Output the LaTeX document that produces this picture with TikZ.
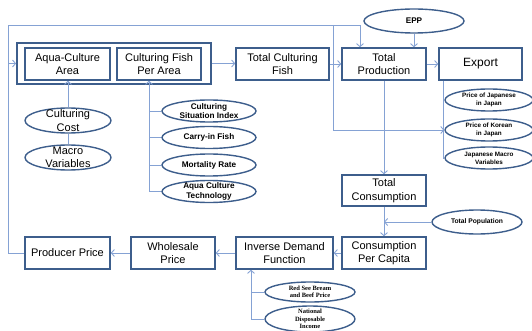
\documentclass[tikz,border=0pt]{standalone}
\usepackage{fontspec}
\setmainfont{Liberation Sans}
\newfontfamily\serifb{Liberation Serif}
\usetikzlibrary{shapes.geometric,arrows.meta,calc}
\definecolor{boxc}{HTML}{3D5E8C}
\definecolor{linec}{HTML}{85A2D4}
\begin{document}
\begin{tikzpicture}[x=1pt,y=-1pt,
  bx/.style={draw=boxc,line width=1.6pt,minimum width=#1,minimum height=32pt,inner sep=0pt,align=center,font=\fontsize{11}{13.5}\selectfont},
  ov/.style 2 args={ellipse,draw=boxc,line width=1.4pt,minimum width=#1,minimum height=#2,inner sep=0pt},
  big/.style={align=center,font=\fontsize{11}{13.5}\selectfont,inner sep=0pt},
  sm/.style={align=center,font=\bfseries\fontsize{8.2}{9.5}\selectfont,inner sep=0pt},
  tiny/.style={align=center,font=\bfseries\fontsize{6.3}{7.8}\selectfont,inner sep=0pt},
  tinys/.style={align=center,font=\serifb\bfseries\fontsize{6.5}{7.4}\selectfont,inner sep=0pt},
  ln/.style={draw=linec,line width=0.9pt},
  arr/.style={ln,-{Straight Barb[length=3pt,width=7pt]}}]
\useasboundingbox (0,0) rectangle (532,331);
% group box
\node[draw=boxc,line width=1.8pt,minimum width=194pt,minimum height=41pt,inner sep=0pt] (grp) at (114,63.5) {};
\node[bx=85pt] (aqua) at (67.5,64) {Aqua-Culture\\Area};
\node[bx=84pt] (cfpa) at (159,64) {Culturing Fish\\Per Area};
\node[bx=93pt] (tcf) at (282.5,64) {Total Culturing\\Fish};
\node[bx=84pt] (tp) at (384,64) {Total\\Production};
\node[bx=83pt,font=\fontsize{12}{14}\selectfont] (exp) at (480.5,64) {Export};
\node[bx=84pt,minimum height=31pt] (tc) at (384,190.5) {Total\\Consumption};
\node[bx=84pt] (cpc) at (384,253) {Consumption\\Per Capita};
\node[bx=97pt] (idf) at (284.5,253) {Inverse Demand\\Function};
\node[bx=84pt] (wp) at (173,253) {Wholesale\\Price};
\node[bx=85pt] (pp) at (67.5,253) {Producer Price};
% ellipses
\node[ov={100pt}{24pt},label={[sm]center:EPP}] (epp) at (414,21) {};
\node[ov={86pt}{25pt},label={[big]center:Culturing\\Cost}] (cc) at (68,120.5) {};
\node[ov={86pt}{25pt},label={[big]center:Macro\\Variables}] (mv) at (68,157.5) {};
\node[ov={94pt}{22pt},label={[sm]center:Culturing\\Situation Index}] (csi) at (209,111) {};
\node[ov={94pt}{22pt},label={[sm]center:Carry-in Fish}] (cif) at (209,137.5) {};
\node[ov={94pt}{22pt},label={[sm]center:Mortality Rate}] (mr) at (209,165) {};
\node[ov={94pt}{22pt},label={[sm]center:Aqua Culture\\Technology}] (act) at (209,191.5) {};
\node[ov={88pt}{22pt},label={[tiny]center:Price of Japanese\\in Japan}] (pjj) at (489,100) {};
\node[ov={88pt}{22pt},label={[tiny]center:Price of Korean\\in Japan}] (pkj) at (489,130) {};
\node[ov={88pt}{22pt},label={[tiny]center:Japanese Macro\\Variables}] (jmv) at (489,158) {};
\node[ov={90pt}{24pt},label={[tiny,font=\bfseries\fontsize{6.7}{8}\selectfont]center:Total Population}] (tpop) at (477,222) {};
\node[ov={90pt}{20pt},label={[tinys]center:Red See Bream\\and Beef Price}] (rsb) at (310,292) {};
\node[ov={90pt}{26pt},label={[tinys]center:National\\Disposable\\Income}] (ndi) at (310,319) {};
% coordinates
\coordinate (ctl) at (8,25);
\coordinate (lj) at (8,63.5);
\coordinate (kj) at (333,25);
\coordinate (fb) at ([xshift=-10pt]cfpa.south);
\coordinate (ib) at ([xshift=-33.5pt]idf.south);
% connectors
\draw[arr] (pp.west) -| (ctl) -| ([xshift=-24pt]tp.north);
\draw[arr] (lj) -- (grp.west);
\draw[arr] (kj) |- (pkj.west);
\draw[arr] (grp.east) -- (grp.east -| tcf.west);
\draw[arr] (tcf.east) -- (tp.west);
\draw[arr] (tp.east) -- (exp.west);
\draw[arr] (epp.south) -- (epp.south |- tp.north);
\draw[ln] ([xshift=5pt]exp.south west) |- (jmv.west);
\draw[arr] (tp.south) -- (tc.north);
\draw[arr] (tc.south) -- (cpc.north);
\draw[arr] (tpop.west) -- (tpop.west -| tc.south);
\draw[arr] (cpc.west) -- (idf.east);
\draw[arr] (idf.west) -- (wp.east);
\draw[arr] (wp.west) -- (pp.east);
\draw[arr] (ndi.west) -| (ib);
\draw[ln] (rsb.west) -- (rsb.west -| ib);
\draw[arr] (act.west) -| (fb);
\draw[ln] (csi.west) -- (csi.west -| fb);
\draw[ln] (cif.west) -- (cif.west -| fb);
\draw[ln] (mr.west) -- (mr.west -| fb);
\draw[arr] (cc.north) -- (cc.north |- aqua.south);
\draw[ln] (mv.north) -- (cc.south);
\end{tikzpicture}
\end{document}
